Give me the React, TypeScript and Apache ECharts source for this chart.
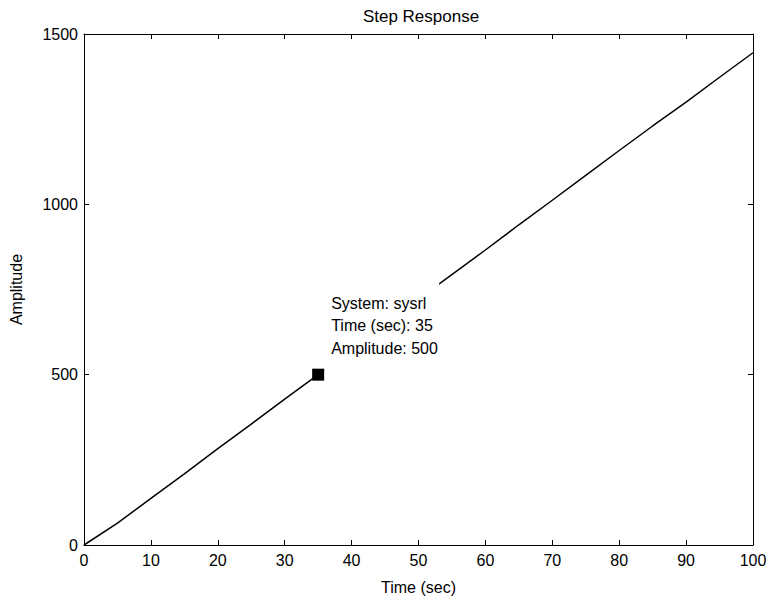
import React, { useEffect, useRef } from "react";
import * as echarts from "echarts";

const timeSec = [0, 5, 10, 15, 20, 25, 30, 35, 53, 60, 65, 70, 75, 80, 85, 90, 95, 100];
const amplitude = [0, 64, 137, 209, 283, 355, 428, 500, 765, 866, 940, 1012, 1085, 1158, 1230, 1300, 1373, 1445];
const tipTime = 35;
const tipAmp = 500;
const tipLines = ["System: sysrl", "Time (sec): 35", "Amplitude: 500"];

const FONT = "Liberation Sans, Arial, sans-serif";

export default function App() {
  const ref = useRef<HTMLDivElement>(null);
  useEffect(() => {
    if (!ref.current) return;
    const chart = echarts.init(ref.current, undefined, { renderer: "svg" });
    const data = timeSec.map((t, i) => [t, amplitude[i]]);
    const axisCommon = {
      axisLine: { show: true, onZero: false, lineStyle: { color: "#000", width: 1 } },
      axisTick: { show: true, inside: true, length: 5, lineStyle: { color: "#000" } },
      splitLine: { show: false },
    };
    chart.setOption({
      animation: false,
      backgroundColor: "#fff",
      textStyle: { fontFamily: FONT },
      title: {
        text: "Step Response",
        left: 416,
        textAlign: "center",
        top: 3,
        textStyle: { fontFamily: FONT, fontSize: 17, fontWeight: "normal", color: "#000" },
      },
      grid: { left: 82, top: 34, right: 17, bottom: 59 },
      xAxis: [
        {
          type: "value",
          min: 0,
          max: 100,
          interval: 10,
          name: "Time (sec)",
          nameLocation: "middle",
          nameGap: 34,
          nameTextStyle: { fontFamily: FONT, fontSize: 16, color: "#000" },
          axisLabel: { fontFamily: FONT, fontSize: 16, color: "#000", margin: 7, formatter: (v: number) => String(v) },
          ...axisCommon,
        },
        {
          type: "value",
          position: "top",
          min: 0,
          max: 100,
          interval: 10,
          axisLabel: { show: false },
          ...axisCommon,
        },
      ],
      yAxis: [
        {
          type: "value",
          min: 0,
          max: 1500,
          interval: 500,
          name: "Amplitude",
          nameLocation: "middle",
          nameGap: 60,
          nameTextStyle: { fontFamily: FONT, fontSize: 16, color: "#000" },
          axisLabel: { fontFamily: FONT, fontSize: 16, color: "#000", margin: 6, formatter: (v: number) => String(v) },
          ...axisCommon,
        },
        {
          type: "value",
          position: "right",
          min: 0,
          max: 1500,
          interval: 500,
          axisLabel: { show: false },
          ...axisCommon,
        },
      ],
      series: [
        {
          type: "line",
          data,
          xAxisIndex: 0,
          yAxisIndex: 0,
          symbol: "none",
          lineStyle: { color: "#000", width: 1.5 },
        },
        {
          type: "line",
          data: [],
          xAxisIndex: 1,
          yAxisIndex: 1,
          symbol: "none",
        },
      ],
    });
    const p = chart.convertToPixel({ xAxisIndex: 0, yAxisIndex: 0 }, [tipTime, tipAmp]) as number[];
    const offsets = [-71, -49, -26.5];
    chart.setOption({
      graphic: [
        {
          type: "rect",
          z: 100,
          shape: { x: p[0] + 6, y: p[1] - 92, width: 115, height: 90 },
          style: { fill: "#fff" },
        },
        ...tipLines.map((t, i) => ({
          type: "text",
          z: 101,
          x: p[0] + 13,
          y: p[1] + offsets[i],
          style: {
            text: t,
            fill: "#000",
            font: `16px ${FONT}`,
            verticalAlign: "middle",
            align: "left",
          },
        })),
        {
          type: "rect",
          z: 102,
          shape: { x: p[0] - 6, y: p[1] - 6, width: 12, height: 12 },
          style: { fill: "#000" },
        },
      ],
    });
    return () => chart.dispose();
  }, []);
  return <div ref={ref} style={{ width: 770, height: 604, position: "absolute", left: 0, top: 0 }} />;
}
